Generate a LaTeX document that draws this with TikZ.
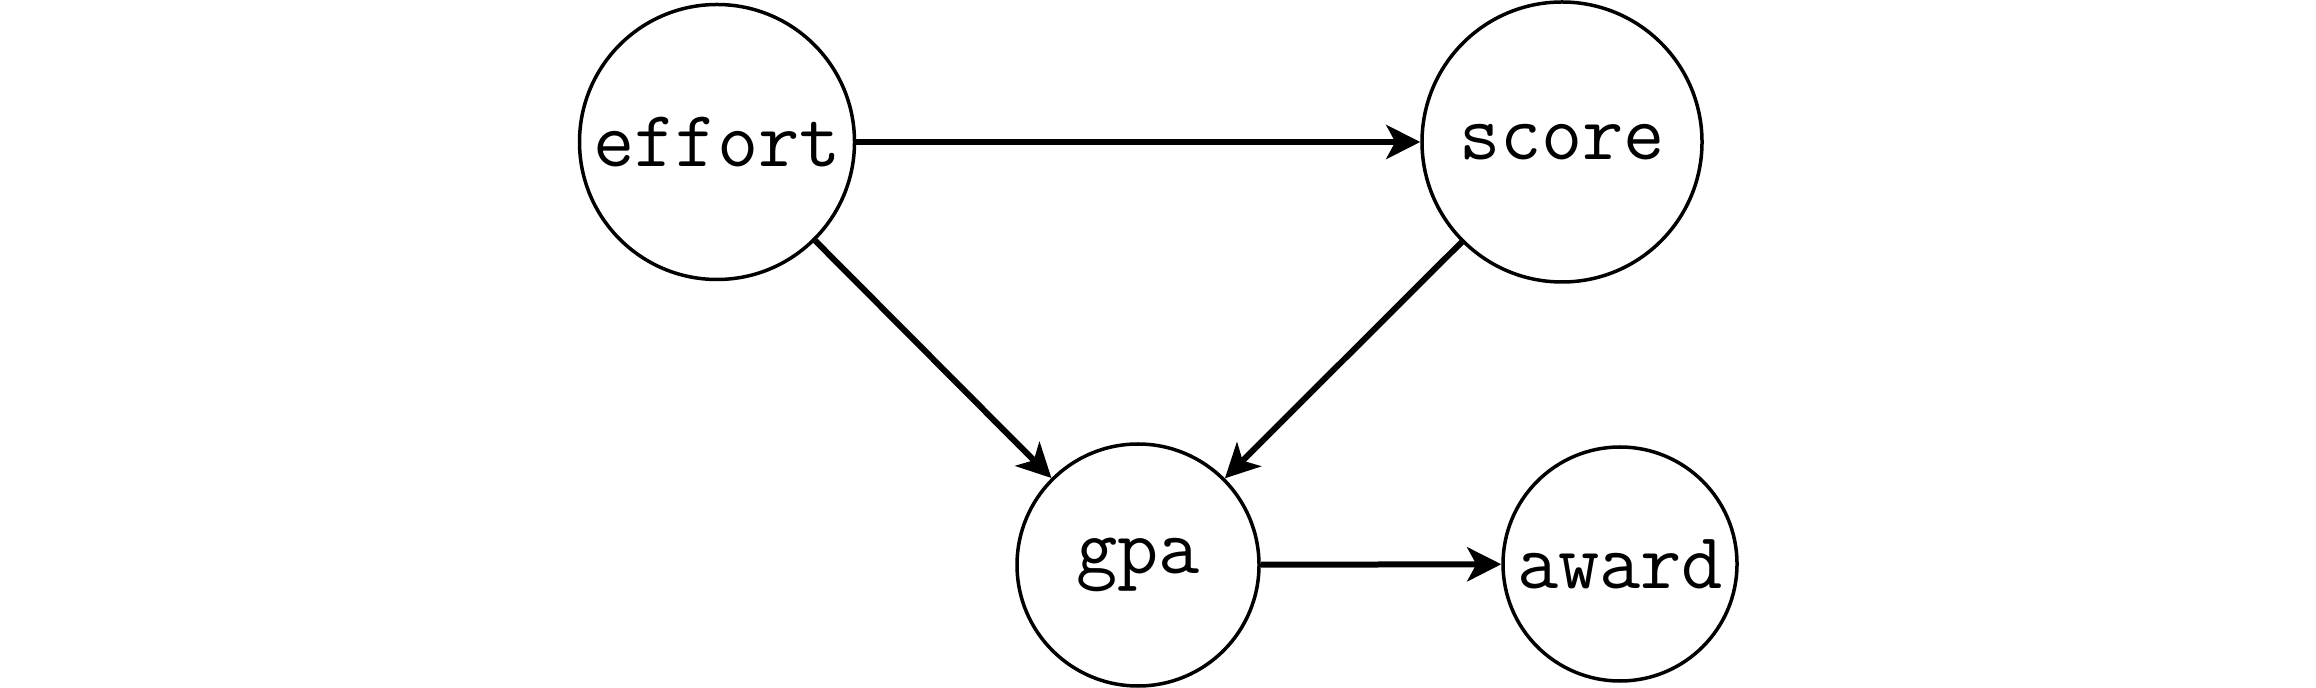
\documentclass[tikz,border=0pt]{standalone}
\usetikzlibrary{arrows.meta}
\begin{document}
\begin{tikzpicture}[x=0.5pt,y=-0.5pt,
  var/.style={circle, draw=black, line width=1.75pt, inner sep=0pt, font=\ttfamily\fontsize{40}{44}\selectfont},
  edge/.style={line width=3pt, -{Stealth[length=17pt, width=17pt, inset=4.5pt]}}]
\useasboundingbox (0,0) rectangle (2316,688);
\node[var, minimum size=137.5pt] (effort) at (717,142) {effort};
\node[var, minimum size=140pt] (score) at (1562,142) {score};
\node[var, minimum size=121pt] (gpa) at (1138,565) {gpa};
\node[var, minimum size=117pt] (award) at (1620,564) {award};
\draw[edge] (effort) -- (score);
\draw[edge] (effort) -- (gpa);
\draw[edge] (score) -- (gpa);
\draw[edge] (gpa) -- (award);
\end{tikzpicture}
\end{document}
